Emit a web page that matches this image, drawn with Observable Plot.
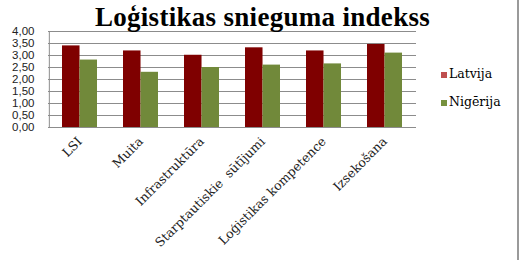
<!DOCTYPE html>
<html>
<head>
<meta charset="utf-8">
<script src="https://cdn.jsdelivr.net/npm/d3@7"></script>
<script src="https://cdn.jsdelivr.net/npm/@observablehq/plot@0.6"></script>
<style>
  html, body { margin: 0; padding: 0; background: #fff; }
  #wrap { position: relative; width: 520px; height: 260px; overflow: hidden; }
  #title { position: absolute; left: 0; width: 525px; top: 2px; text-align: center;
    font-family: "Liberation Serif", serif; font-weight: bold; font-size: 27px; color: #000; letter-spacing: 0.3px; }
  #border { position: absolute; left: 517px; top: 0; width: 2px; height: 260px; background: #9a9a9a; }
  .leg { position: absolute; left: 441px; font-family: "DejaVu Serif", serif; font-size: 12.5px; color: #000; }
  .sw { position: absolute; left: 0; width: 6px; height: 6px; }
  .leg span.t { position: absolute; left: 8px; white-space: nowrap; }
  #chart { position: absolute; left: 0; top: 0; }
</style>
</head>
<body>
<div id="wrap">
  <div id="chart"></div>
  <div id="title">Loģistikas snieguma indekss</div>
  <div id="legend"></div>
  <div id="border"></div>
</div>
<script>
const categories = ["LSI", "Muita", "Infrastruktūra", "Starptautiskie  sūtījumi", "Loģistikas kompetence", "Izsekošana"];
const seriesNames = ["Latvija", "Nigērija"];
const latvija = [3.40, 3.19, 3.01, 3.32, 3.19, 3.46];
const nigerija = [2.81, 2.30, 2.50, 2.60, 2.65, 3.10];
const yTicks = [0, 0.5, 1, 1.5, 2, 2.5, 3, 3.5, 4];
const barColors = ["#7f0000", "#71893a"];
const legendColors = ["#bf4f4f", "#76913e"];

const rows = categories.map((c, i) => ({category: c, latvija: latvija[i], nigerija: nigerija[i]}));

const width = 520, height = 260;
const marginLeft = 48, marginRight = 104;
const padding = 0.43;
const step = (width - marginLeft - marginRight) / categories.length;
const halfBand = step * (1 - padding) / 2;

const fmt = d => d3.format(".2f")(d).replace(".", ",");

const chart = Plot.plot({
  width, height,
  marginLeft, marginRight,
  marginTop: 31, marginBottom: 133,
  style: {background: "transparent", fontFamily: "Liberation Sans, sans-serif"},
  x: {domain: categories, paddingInner: padding, paddingOuter: padding / 2, label: null},
  y: {domain: [0, 4], label: null},
  marks: [
    Plot.ruleY(yTicks, {stroke: "#8c8c8c", strokeWidth: 1, strokeOpacity: 1}),
    Plot.barY(rows, {x: "category", y: "latvija", fill: barColors[0], insetLeft: 0, insetRight: halfBand}),
    Plot.barY(rows, {x: "category", y: "nigerija", fill: barColors[1], insetLeft: halfBand, insetRight: 0}),
    Plot.ruleX([0], {x: () => categories[0], dx: -step / 2, y1: 0, y2: 4, stroke: "#8c8c8c"}),
    Plot.axisY({ticks: yTicks, tickFormat: fmt, tickSize: 0, tickPadding: 14, fontSize: 11.5, fill: "#222"}),
    Plot.axisX({tickSize: 0, tickPadding: 12, tickRotate: -45, fontSize: 12.5,
      fontFamily: "DejaVu Serif, serif", fill: "#222"})
  ]
});
document.getElementById("chart").appendChild(chart);

const legend = document.getElementById("legend");
seriesNames.forEach((name, i) => {
  const d = document.createElement("div");
  d.className = "leg";
  d.style.top = (72 + i * 28) + "px";
  d.innerHTML = `<div class="sw" style="top:0;background:${legendColors[i]}"></div><span class="t" style="top:-6px">${name}</span>`;
  legend.appendChild(d);
});
</script>
</body>
</html>
